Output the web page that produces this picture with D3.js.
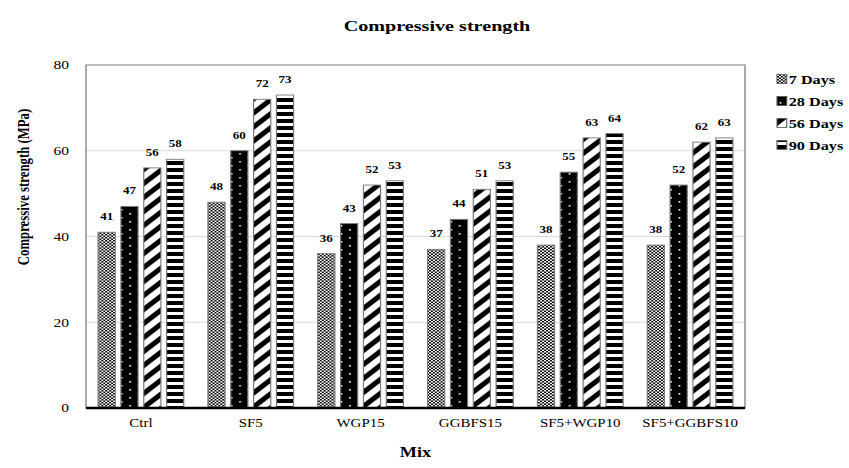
<!DOCTYPE html>
<html>
<head>
<meta charset="utf-8">
<script src="https://cdn.jsdelivr.net/npm/d3@7"></script>
<style>
  body { margin: 0; background: #fff; }
  svg { display: block; }
  text { font-family: "Liberation Serif", "Times New Roman", serif; fill: #000; }
</style>
</head>
<body>
<div id="container"></div>
<script>
const mixes = ["Ctrl", "SF5", "WGP15", "GGBFS15", "SF5+WGP10", "SF5+GGBFS10"];
const series = ["7 Days", "28 Days", "56 Days", "90 Days"];
const days7 = [41, 48, 36, 37, 38, 38];
const days28 = [47, 60, 43, 44, 55, 52];
const days56 = [56, 72, 52, 51, 63, 62];
const days90 = [58, 73, 53, 53, 64, 63];
const yTicks = [0, 20, 40, 60, 80];

const width = 849;
const height = 468;
// the picture is stretched sideways, so draw in a narrower box and stretch it
const sx = 1.3;
const vw = width / sx;

const plot = { left: 86 / sx, right: 745 / sx, top: 65, bottom: 408 };

let values = [days7, days28, days56, days90];
let rows = [];
mixes.forEach((m, i) => {
    series.forEach((s, j) => {
        rows.push({ mix: m, series: s, value: values[j][i], k: j });
    });
});

let svg = d3.select("#container").append("svg")
    .attr("width", width)
    .attr("height", height)
    .attr("viewBox", `0 0 ${vw} ${height}`)
    .attr("preserveAspectRatio", "none");

let defs = svg.append("defs");

// 7 days: fine checker
let p7 = defs.append("pattern").attr("id", "p0")
    .attr("patternUnits", "userSpaceOnUse").attr("width", 3).attr("height", 3);
p7.append("rect").attr("width", 3).attr("height", 3).attr("fill", "#fff");
p7.append("rect").attr("width", 1.5).attr("height", 1.5).attr("fill", "#000");
p7.append("rect").attr("x", 1.5).attr("y", 1.5).attr("width", 1.5).attr("height", 1.5).attr("fill", "#000");

// 28 days: black with white dots
let p28 = defs.append("pattern").attr("id", "p1")
    .attr("patternUnits", "userSpaceOnUse").attr("width", 13).attr("height", 8);
p28.append("rect").attr("width", 13).attr("height", 8).attr("fill", "#000");
p28.append("rect").attr("x", 2).attr("y", 1).attr("width", 1.3).attr("height", 1.6).attr("fill", "#fff");
p28.append("rect").attr("x", 8.5).attr("y", 5).attr("width", 1.3).attr("height", 1.6).attr("fill", "#fff");

// 56 days: wide diagonal stripes
let p56 = defs.append("pattern").attr("id", "p2")
    .attr("patternUnits", "userSpaceOnUse").attr("width", 14).attr("height", 14);
p56.append("rect").attr("width", 14).attr("height", 14).attr("fill", "#fff");
p56.append("path")
    .attr("d", "M0,14L14,0M-2,2L2,-2M12,16L16,12")
    .attr("stroke", "#000").attr("stroke-width", 4.5);

// 90 days: horizontal stripes
let p90 = defs.append("pattern").attr("id", "p3")
    .attr("patternUnits", "userSpaceOnUse").attr("width", 4).attr("height", 7);
p90.append("rect").attr("width", 4).attr("height", 7).attr("fill", "#fff");
p90.append("rect").attr("width", 4).attr("height", 4).attr("fill", "#000");

let x0 = d3.scaleBand().domain(mixes).range([plot.left, plot.right])
    .paddingInner(0.22).paddingOuter(0.11);
let x1 = d3.scaleBand().domain(series).range([0, x0.bandwidth()]).paddingInner(0.25);
let y = d3.scaleLinear().domain([0, 80]).range([plot.bottom, plot.top]);

// gridlines
svg.append("g")
    .selectAll("line")
    .data(yTicks.filter(t => t > 0 && t < 80))
    .join("line")
    .attr("x1", plot.left).attr("x2", plot.right)
    .attr("y1", d => y(d)).attr("y2", d => y(d))
    .attr("stroke", "#d9d9d9").attr("stroke-width", 1.2);

// frame
svg.append("rect")
    .attr("x", plot.left).attr("y", plot.top)
    .attr("width", plot.right - plot.left).attr("height", plot.bottom - plot.top)
    .attr("fill", "none").attr("stroke", "#7f7f7f").attr("stroke-width", 1);

// bars
svg.append("g")
    .selectAll("rect")
    .data(rows)
    .join("rect")
    .attr("x", d => x0(d.mix) + x1(d.series))
    .attr("y", d => y(d.value))
    .attr("width", x1.bandwidth())
    .attr("height", d => y(0) - y(d.value))
    .attr("fill", d => "url(#p" + d.k + ")")
    .attr("stroke", "#7a7a7a")
    .attr("stroke-width", 0.9);

// value labels
svg.append("g")
    .selectAll("text")
    .data(rows)
    .join("text")
    .attr("x", d => x0(d.mix) + x1(d.series) + x1.bandwidth() / 2)
    .attr("y", d => y(d.value) - 12)
    .attr("text-anchor", "middle")
    .attr("font-size", 10)
    .attr("font-weight", "bold")
    .text(d => d.value);

// bottom axis line
svg.append("line")
    .attr("x1", plot.left).attr("x2", plot.right)
    .attr("y1", plot.bottom).attr("y2", plot.bottom)
    .attr("stroke", "#000").attr("stroke-width", 2.5);

// y ticks
let yAxis = svg.append("g")
    .attr("transform", `translate(${plot.left},0)`)
    .call(d3.axisLeft(y).tickValues(yTicks).tickSize(0).tickPadding(13));
yAxis.select(".domain").remove();
yAxis.selectAll("text")
    .attr("font-size", 12)
    .attr("font-family", "Liberation Serif, serif")
    .attr("fill", "#000");

// x ticks
let xAxis = svg.append("g")
    .attr("transform", `translate(0,${plot.bottom})`)
    .call(d3.axisBottom(x0).tickSize(0).tickPadding(11));
xAxis.select(".domain").remove();
xAxis.selectAll("text")
    .attr("font-size", 11.5)
    .attr("font-family", "Liberation Serif, serif")
    .attr("fill", "#000");

// titles
svg.append("text")
    .attr("x", 437 / sx).attr("y", 31)
    .attr("text-anchor", "middle")
    .attr("font-size", 15.5)
    .attr("font-weight", "bold")
    .text("Compressive strength");

svg.append("text")
    .attr("x", (plot.left + plot.right) / 2).attr("y", 457)
    .attr("text-anchor", "middle")
    .attr("font-size", 14)
    .attr("font-weight", "bold")
    .text("Mix");

svg.append("text")
    .attr("transform", `translate(${29 / sx},187) rotate(-90)`)
    .attr("text-anchor", "middle")
    .attr("font-size", 12.8)
    .attr("font-weight", "bold")
    .text("Compressive strength (MPa)");

// legend
let legend = svg.append("g")
    .selectAll("g")
    .data(series)
    .join("g")
    .attr("transform", (d, i) => `translate(${777 / sx},${79 + i * 22})`);

legend.append("rect")
    .attr("x", 0).attr("y", -4.5)
    .attr("width", 7.5).attr("height", 9)
    .attr("fill", (d, i) => "url(#p" + i + ")")
    .attr("stroke", "#555").attr("stroke-width", 0.8);

legend.append("text")
    .attr("x", 9).attr("y", 4.5)
    .attr("font-size", 12.5)
    .attr("font-weight", "bold")
    .text(d => d);
</script>
</body>
</html>
